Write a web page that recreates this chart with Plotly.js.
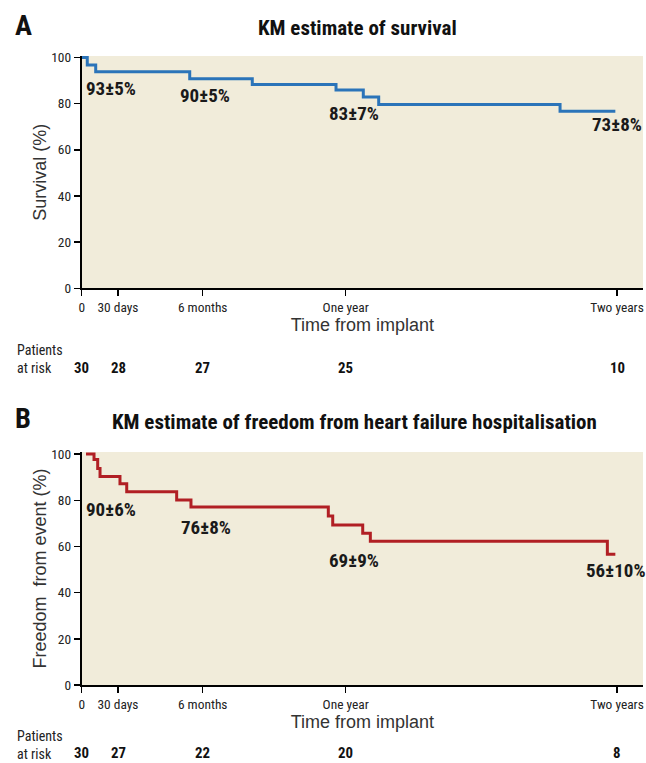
<!DOCTYPE html>
<html>
<head>
<meta charset="utf-8">
<script src="https://cdn.plot.ly/plotly-3.0.1.min.js"></script>
<style>html,body{margin:0;padding:0;background:#fff;}#chart{width:646px;height:763px;}</style>
</head>
<body>
<div id="chart"></div>
<script>
// ---- Data (time in days along the drawn axis) ----
const survTimes = [0, 7.6, 19.1, 147.3, 232.6, 346.8, 384, 405, 652.3, 727.7];
const survValues = [100, 96.7, 93.8, 90.8, 88.3, 85.9, 82.8, 79.6, 76.7, 76.7];

const hfTimes = [5.9, 16.8, 21.8, 25, 52.2, 61.4, 129.5, 149, 336.3, 342.3, 383.2, 393.6, 716.8, 727.7];
const hfValues = [100, 97.7, 93.8, 90.3, 87.1, 83.7, 80.1, 77.1, 73.2, 69.3, 65.7, 62.2, 56.6, 56.6];

const tickPos = [0, 49.5, 165, 360, 730];
const tickLabels = ['0', '30 days', '6 months', 'One year', 'Two years'];

const riskA = [30, 28, 27, 25, 10];
const riskB = [30, 27, 22, 20, 8];

const estLabelsA = ['93±5%', '90±5%', '83±7%', '73±8%'];
const estXA = [3.1, 168.8, 371.3, 730];
const estYA = [86.7, 83.3, 75.5, 71.1];

const estLabelsB = ['90±6%', '76±8%', '69±9%', '56±10%'];
const estXB = [3.1, 169.5, 371.3, 728.6];
const estYB = [76, 68, 53.9, 49.6];

// ---- Font selection: prefer an installed condensed face ----
const ctx = document.createElement('canvas').getContext('2d');
function hasFont(name) {
  const s = 'mmmmmmmmmmlli1WQ@#%90';
  for (const base of ['monospace', 'serif', 'sans-serif']) {
    ctx.font = '72px ' + base; const w0 = ctx.measureText(s).width;
    ctx.font = '72px "' + name + '", ' + base; const w1 = ctx.measureText(s).width;
    if (Math.abs(w1 - w0) > 0.5) return true;
  }
  return false;
}
const candidates = ['Roboto Condensed', 'Liberation Sans Narrow', 'Arial Narrow', 'Noto Sans Condensed', 'Open Sans Condensed', 'DejaVu Sans Condensed'];
const picked = candidates.find(hasFont) || 'Liberation Sans';
const NARROW = '"' + picked + '", "DejaVu Sans Condensed", sans-serif';
const REG = "'Liberation Sans', Arial, sans-serif";
// font size so that a sample string spans the width seen in the reference (capped)
function fit(sample, bold, targetW, maxSize) {
  ctx.font = (bold ? 'bold ' : '') + '100px ' + NARROW;
  const w = ctx.measureText(sample).width;
  return Math.min(maxSize, 100 * targetW / w);
}
const sTitle = fit('KM estimate of freedom from heart failure hospitalisation', true, 485, 23);
const sLetter = fit('A', true, 17, 30);
const sEst = fit('93±5%', true, 50, 19);
const sTick = fit('30 days', false, 41, 14.5);
const sPat = fit('Patients', false, 49, 14);
const sRisk = fit('30', true, 15, 17.5);

const BG = '#f1ecda';

const traces = [
  {x: survTimes, y: survValues, type: 'scatter', mode: 'lines', line: {shape: 'hv', color: '#2b74b9', width: 3}, cliponaxis: false, xaxis: 'x', yaxis: 'y', hoverinfo: 'skip'},
  {x: hfTimes, y: hfValues, type: 'scatter', mode: 'lines', line: {shape: 'hv', color: '#b11f24', width: 3}, cliponaxis: false, xaxis: 'x2', yaxis: 'y2', hoverinfo: 'skip'}
];

function xAxis(anchor) {
  return {
    anchor: anchor, domain: [81.7/646, 643/646], range: [0, 765.4],
    tickvals: tickPos, ticktext: tickLabels, ticks: 'outside', ticklen: 6, tickwidth: 1.5, tickcolor: '#000',
    ticklabeloverflow: 'allow',
    showline: true, linecolor: '#000', linewidth: 2, showgrid: false, zeroline: false,
    tickfont: {family: NARROW, size: sTick, color: '#222'},
    title: {text: 'Time from implant', font: {family: REG, size: 18, color: '#333'}, standoff: 4},
    fixedrange: true
  };
}
function yAxis(anchor, domain, top, title) {
  return {
    anchor: anchor, domain: domain, range: [0, top],
    tickvals: [0, 20, 40, 60, 80, 100], ticks: 'outside', ticklen: 6, tickwidth: 1.5, tickcolor: '#000',
    showline: true, linecolor: '#000', linewidth: 2, showgrid: false, zeroline: false,
    tickfont: {family: NARROW, size: sTick, color: '#222'},
    title: {text: title, font: {family: REG, size: 18, color: '#333'}, standoff: 0},
    fixedrange: true
  };
}

const ann = [];
function txt(text, x, y, xref, yref, font, xanchor) {
  ann.push({text: text, x: x, y: y, xref: xref, yref: yref, showarrow: false, font: font, xanchor: xanchor || 'center', yanchor: 'middle', align: 'left'});
}
const py = p => 1 - p / 763;

// Panel letters and titles
txt('<b>A</b>', 23/646, py(26), 'paper', 'paper', {family: NARROW, size: sLetter, color: '#111'});
txt('<b>KM estimate of survival</b>', 357/646, py(28), 'paper', 'paper', {family: NARROW, size: sTitle, color: '#111'});
txt('<b>B</b>', 23/646, py(418), 'paper', 'paper', {family: NARROW, size: sLetter, color: '#111'});
txt('<b>KM estimate of freedom from heart failure hospitalisation</b>', 354.5/646, py(422), 'paper', 'paper', {family: NARROW, size: sTitle, color: '#111'});

// Estimate labels
estLabelsA.forEach((t, i) => txt('<b>' + t + '</b>', estXA[i], estYA[i], 'x', 'y', {family: NARROW, size: sEst, color: '#1a1a1a'}, i === 0 ? 'left' : 'center'));
estLabelsB.forEach((t, i) => txt('<b>' + t + '</b>', estXB[i], estYB[i], 'x2', 'y2', {family: NARROW, size: sEst, color: '#1a1a1a'}, i === 0 ? 'left' : 'center'));

// Patients at risk
const riskFontL = {family: NARROW, size: sPat, color: '#222'};
const riskFontN = {family: NARROW, size: sRisk, color: '#111'};
txt('Patients<br>at risk', 15/646, py(359), 'paper', 'paper', riskFontL, 'left');
riskA.forEach((n, i) => txt('<b>' + n + '</b>', tickPos[i], py(368), 'x', 'paper', riskFontN));
txt('Patients<br>at risk', 15/646, py(745), 'paper', 'paper', riskFontL, 'left');
riskB.forEach((n, i) => txt('<b>' + n + '</b>', tickPos[i], py(753), 'x2', 'paper', riskFontN));

const layout = {
  width: 646, height: 763,
  margin: {l: 0, r: 0, t: 0, b: 0},
  paper_bgcolor: '#ffffff',
  plot_bgcolor: BG,
  showlegend: false,
  xaxis: xAxis('y'),
  yaxis: yAxis('x', [1 - 288.3/763, 1 - 56/763], 100.6, 'Survival (%)'),
  xaxis2: xAxis('y2'),
  yaxis2: yAxis('x2', [1 - 685/763, 1 - 452/763], 100.9, 'Freedom\u00a0 from event (%)'),
  annotations: ann
};

Plotly.newPlot('chart', traces, layout, {displayModeBar: false, staticPlot: true});
</script>
</body>
</html>
